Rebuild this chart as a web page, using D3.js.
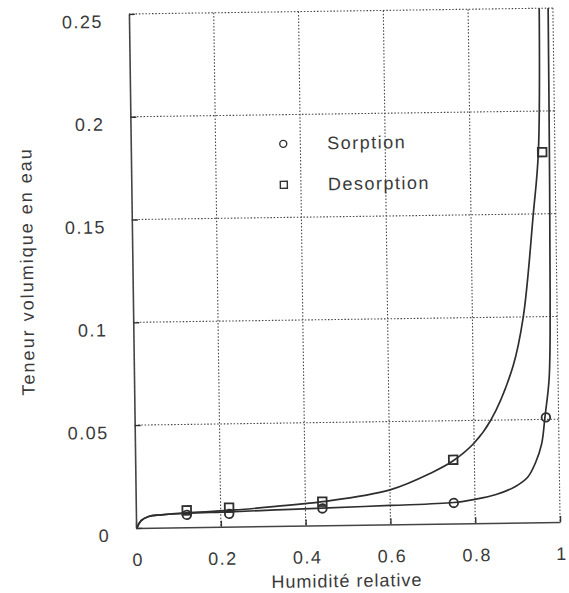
<!DOCTYPE html>
<html>
<head>
<meta charset="utf-8">
<script src="https://cdn.jsdelivr.net/npm/d3@7"></script>
<style>
body { margin: 0; background: #fff; }
text { font-family: "Liberation Sans", Arial, Helvetica, sans-serif; fill: #3a3a3a; }
</style>
</head>
<body>
<div id="chart-area"></div>
<script>

let humidity = [0.12, 0.22, 0.44, 0.75, 0.97];
let sorption = [0.006, 0.0062, 0.0082, 0.010, 0.051];
let desorption = [0.0082, 0.0092, 0.0115, 0.031, 0.18];

// fitted curves
let sorpCurveX = [0.002, 0.012, 0.03, 0.06, 0.12, 0.22, 0.33, 0.44, 0.6, 0.75, 0.8, 0.85, 0.895, 0.925, 0.944, 0.959, 0.968, 0.979, 0.984, 0.987, 0.989];
let sorpCurveY = [0, 0.0035, 0.0055, 0.0062, 0.0068, 0.0072, 0.0078, 0.0084, 0.0092, 0.0102, 0.0116, 0.0138, 0.0175, 0.022, 0.029, 0.038, 0.0515, 0.07, 0.11, 0.18, 0.26];
let desCurveX = [0.002, 0.012, 0.03, 0.06, 0.12, 0.22, 0.33, 0.44, 0.6, 0.7, 0.75, 0.8, 0.84, 0.894, 0.92, 0.947, 0.961, 0.968];
let desCurveY = [0, 0.0035, 0.0055, 0.0062, 0.007, 0.0079, 0.0095, 0.0115, 0.0168, 0.025, 0.0305, 0.039, 0.05, 0.076, 0.1, 0.15, 0.18, 0.26];

let xTicks = [0, 0.2, 0.4, 0.6, 0.8, 1];
let xTickLabels = ["0", "0.2", "0.4", "0.6", "0.8", "1"];
let yTicks = [0, 0.05, 0.1, 0.15, 0.2, 0.25];
let yTickLabels = ["0", "0.05", "0.1", "0.15", "0.2", "0.25"];

let legendNames = ["Sorption", "Desorption"];

// SVG drawing area
let margin = {top: 11, right: 12.5, bottom: 68, left: 132.5};
let width = 569 - margin.left - margin.right,
    height = 593 - margin.top - margin.bottom;

let root = d3.select("#chart-area").append("svg")
    .attr("width", 569)
    .attr("height", 593)
    .append("g")
    // the scanned page is slightly tilted
    .attr("transform", "rotate(-0.8, 344.5, 268)");

let svg = root.append("g")
    .attr("transform", "translate(" + margin.left + "," + margin.top + ")");

// Scales
let x = d3.scaleLinear().domain([0, 1]).range([0, width]);
let y = d3.scaleLinear().domain([0, 0.25]).range([height, 0]);

// dotted grid (also top and right border)
svg.append("g").selectAll("line.vg")
    .data(xTicks.slice(1))
    .enter().append("line")
    .attr("x1", d => x(d)).attr("x2", d => x(d))
    .attr("y1", 0).attr("y2", height)
    .attr("stroke", "#444")
    .attr("stroke-width", 1.1)
    .attr("stroke-dasharray", "1.5,1.8");

svg.append("g").selectAll("line.hg")
    .data(yTicks.slice(1))
    .enter().append("line")
    .attr("y1", d => y(d)).attr("y2", d => y(d))
    .attr("x1", 0).attr("x2", width)
    .attr("stroke", "#444")
    .attr("stroke-width", 1.1)
    .attr("stroke-dasharray", "1.5,1.8");

// Axes
let xAxis = d3.axisBottom(x)
    .tickValues(xTicks)
    .tickSizeInner(-6)
    .tickSizeOuter(0)
    .tickPadding(0)
    .tickFormat((d, i) => xTickLabels[i]);
let yAxis = d3.axisLeft(y)
    .tickValues(yTicks)
    .tickSizeInner(-6)
    .tickSizeOuter(0)
    .tickPadding(0)
    .tickFormat((d, i) => yTickLabels[i]);

let xGroup = svg.append("g")
    .attr("class", "axis x-axis")
    .attr("transform", "translate(0," + height + ")")
    .call(xAxis);
let yGroup = svg.append("g")
    .attr("class", "axis y-axis")
    .call(yAxis);

svg.selectAll(".axis path").attr("stroke", "#444").attr("stroke-width", 1.6);
svg.selectAll(".axis line").attr("stroke", "#333").attr("stroke-width", 1.4);

xGroup.selectAll("text")
    .attr("y", 38)
    .attr("dy", 0)
    .attr("dx", 1)
    .style("font-size", "18px")
    .style("letter-spacing", "1.5px")
    .attr("fill", "#3a3a3a");
yGroup.selectAll("text")
    .attr("x", -26)
    .attr("dy", 13)
    .style("font-size", "18px")
    .style("letter-spacing", "1.5px")
    .attr("fill", "#3a3a3a");

// Axis titles
root.append("text")
    .attr("x", 342.5)
    .attr("y", 587)
    .attr("text-anchor", "middle")
    .style("font-size", "18px")
    .style("letter-spacing", "1px")
    .text("Humidité relative");

root.append("text")
    .attr("transform", "translate(33,267) rotate(-90)")
    .attr("text-anchor", "middle")
    .style("font-size", "18px")
    .style("letter-spacing", "2px")
    .text("Teneur volumique en eau");

// Curves
svg.append("clipPath").attr("id", "plot-clip")
    .append("rect").attr("x", 0).attr("y", 0).attr("width", width).attr("height", height);

let line = d3.line()
    .x(d => x(d[0]))
    .y(d => y(d[1]))
    .curve(d3.curveCatmullRom.alpha(0.5));

let curves = [
    d3.zip(sorpCurveX, sorpCurveY),
    d3.zip(desCurveX, desCurveY)
];

svg.append("g").attr("clip-path", "url(#plot-clip)")
    .selectAll("path")
    .data(curves)
    .enter().append("path")
    .attr("d", line)
    .attr("fill", "none")
    .attr("stroke", "#2e2e2e")
    .attr("stroke-width", 1.7);

// Markers
svg.selectAll("circle.sorp")
    .data(d3.zip(humidity, sorption))
    .enter().append("circle")
    .attr("class", "sorp")
    .attr("cx", d => x(d[0]))
    .attr("cy", d => y(d[1]))
    .attr("r", 4.3)
    .attr("fill", "none")
    .attr("stroke", "#2e2e2e")
    .attr("stroke-width", 1.8);

svg.selectAll("rect.des")
    .data(d3.zip(humidity, desorption))
    .enter().append("rect")
    .attr("class", "des")
    .attr("x", d => x(d[0]) - 4.3)
    .attr("y", d => y(d[1]) - 4.3)
    .attr("width", 8.6)
    .attr("height", 8.6)
    .attr("fill", "none")
    .attr("stroke", "#2e2e2e")
    .attr("stroke-width", 1.8);

// Legend
let legend = root.append("g");
legend.append("circle")
    .attr("cx", 285).attr("cy", 143).attr("r", 3.5)
    .attr("fill", "none").attr("stroke", "#333").attr("stroke-width", 1.4);
legend.append("rect")
    .attr("x", 281.5).attr("y", 180.5).attr("width", 7).attr("height", 7)
    .attr("fill", "none").attr("stroke", "#333").attr("stroke-width", 1.4);
legend.selectAll("text")
    .data(legendNames)
    .enter().append("text")
    .attr("x", 329)
    .attr("y", (d, i) => 149 + i * 41)
    .style("font-size", "18px")
    .style("letter-spacing", "1.5px")
    .text(d => d);

</script>
</body>
</html>
